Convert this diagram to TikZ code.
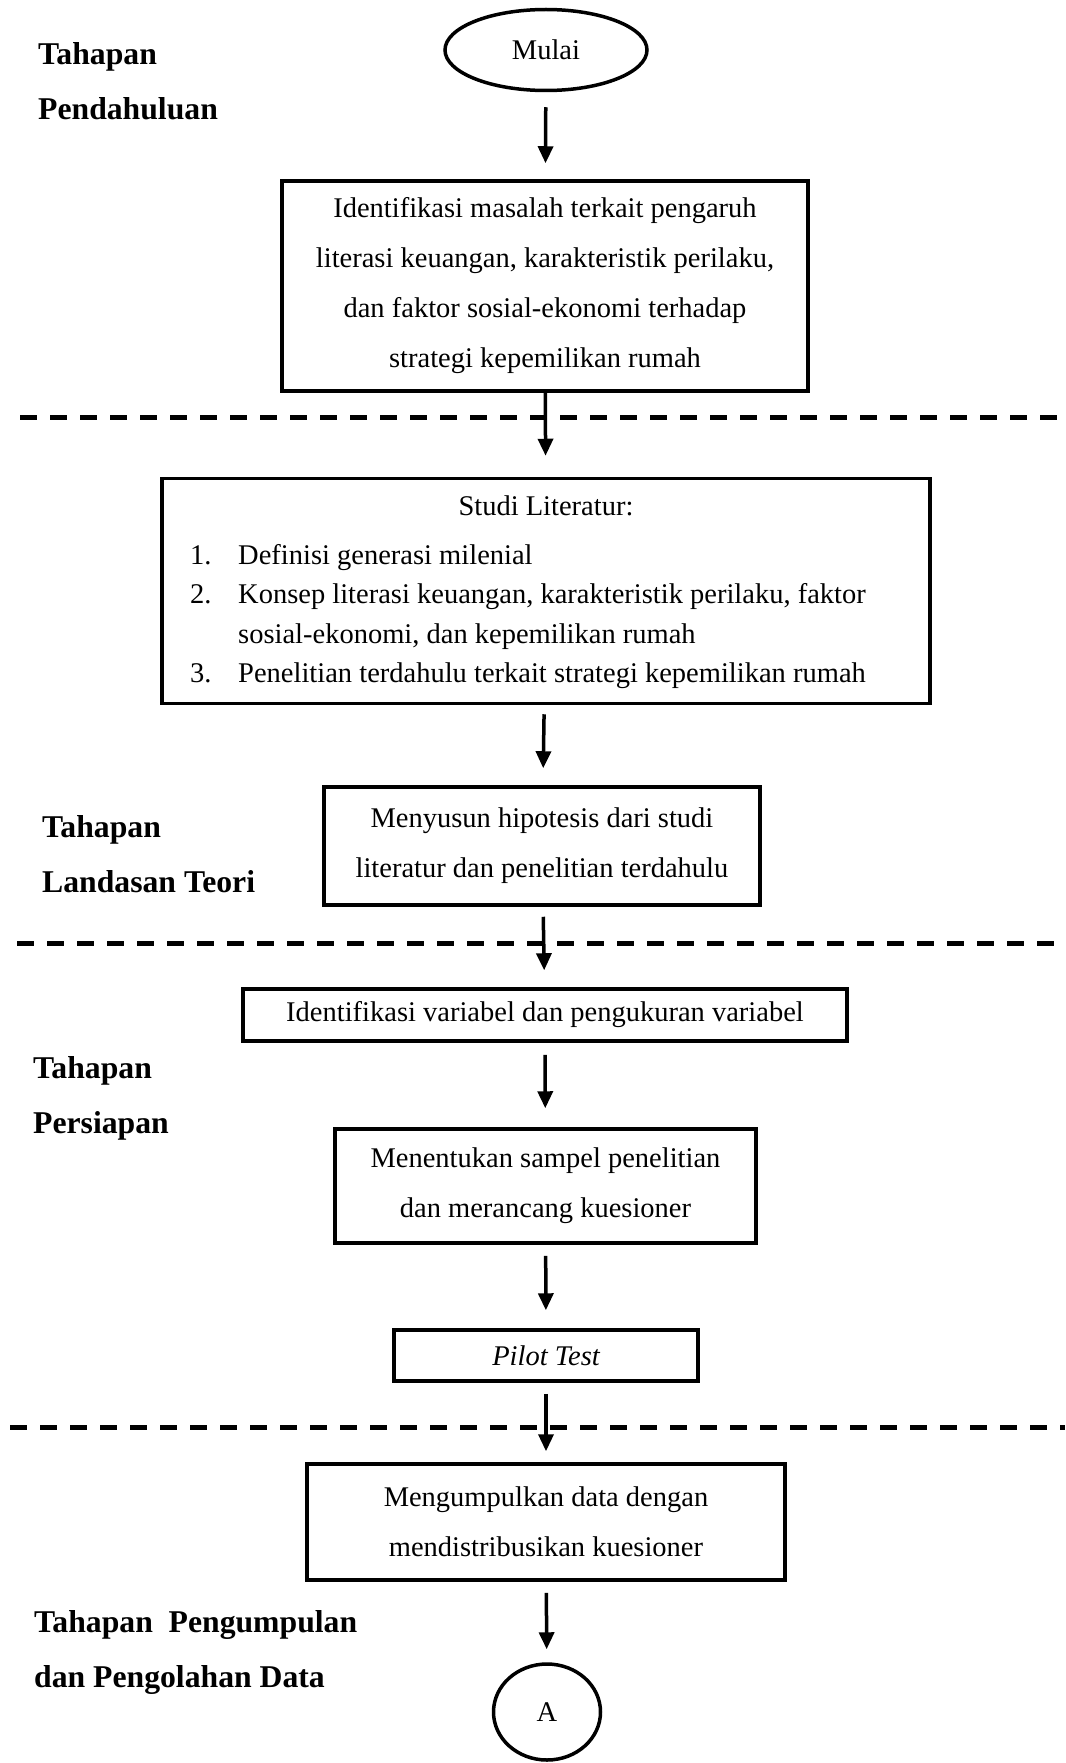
\documentclass[tikz,border=0pt]{standalone}
\usepackage{fontspec}
\setmainfont{Liberation Serif}
\usetikzlibrary{arrows.meta,shapes.geometric}

\begin{document}
\begin{tikzpicture}[x=1pt, y=-1pt,
    box/.style={draw, line width=3.5pt, align=center, inner sep=0pt,
      font=\fontsize{28.5}{50}\selectfont},
    oval/.style={draw, ellipse, line width=3.5pt, inner sep=0pt,
      font=\fontsize{28.5}{34}\selectfont},
    arr/.style={-{Triangle[width=15pt,length=17pt]}, line width=3.5pt,
      shorten <=10pt, shorten >=17pt},
    sep/.style={dash pattern=on 17pt off 13pt, line width=5pt},
    stage/.style={anchor=base west, align=left, inner sep=0pt,
      font=\fontsize{31.7}{55}\selectfont\bfseries}]
  \useasboundingbox (0,0) rectangle (1065,1763);

  \node[stage] (pendahuluan) at (38,120) {Tahapan\\Pendahuluan};
  \node[stage] (landasan) at (42,892) {Tahapan\\Landasan Teori};
  \node[stage] (persiapan) at (33,1133) {Tahapan\\Persiapan};
  \node[stage] (pengumpulan) at (34,1687) {Tahapan~ Pengumpulan\\dan Pengolahan Data};

  \draw[sep] (20,417) -- (1065,417);
  \draw[sep] (17,943) -- (1065,943);
  \draw[sep] (10,1427) -- (1065,1427);

  \node[oval, minimum width=202, minimum height=81] (mulai) at (546,50) {Mulai};
  \node[box, minimum width=526, minimum height=210] (masalah) at (545,286)
    {Identifikasi masalah terkait pengaruh\\
     literasi keuangan, karakteristik perilaku,\\
     dan faktor sosial-ekonomi terhadap\\
     strategi kepemilikan rumah};
  \node[box, minimum width=768, minimum height=225,
    font=\fontsize{28.5}{39.3}\selectfont] (studi) at (546,591) {%
    \begin{tabular}{@{}p{48pt}@{}l@{\hspace{36pt}}}
      \multicolumn{2}{c}{Studi Literatur:}\\[9.7pt]
      1. & Definisi generasi milenial\\
      2. & Konsep literasi keuangan, karakteristik perilaku, faktor\\
         & sosial-ekonomi, dan kepemilikan rumah\\
      3. & Penelitian terdahulu terkait strategi kepemilikan rumah
    \end{tabular}};
  \node[box, minimum width=436, minimum height=118] (hipotesis) at (542,846)
    {Menyusun hipotesis dari studi\\literatur dan penelitian terdahulu};
  \node[box, minimum width=604, minimum height=52] (variabel) at (545,1015)
    {Identifikasi variabel dan pengukuran variabel};
  \node[box, minimum width=421, minimum height=114] (sampel) at (545.5,1186)
    {Menentukan sampel penelitian\\dan merancang kuesioner};
  \node[box, minimum width=304, minimum height=51] (pilot) at (546,1355.5)
    {\itshape Pilot Test};
  \node[box, minimum width=478, minimum height=116] (kumpul) at (546,1522)
    {Mengumpulkan data dengan\\mendistribusikan kuesioner};
  \node[oval, minimum width=107, minimum height=96] (konektor) at (547,1712) {A};

  \draw[arr, shorten <=15pt, shorten >=16pt] (mulai) -- (masalah);
  \draw[arr, shorten <=0pt, shorten >=21pt] (masalah) -- (studi);
  \draw[arr, shorten <=9pt] (studi) -- (hipotesis);
  \draw[arr] (hipotesis) -- (variabel);
  \draw[arr, shorten <=12pt, shorten >=19pt] (variabel) -- (sampel);
  \draw[arr, shorten <=11pt, shorten >=18pt] (sampel) -- (pilot);
  \draw[arr, shorten <=11pt, shorten >=11pt] (pilot) -- (kumpul);
  \draw[arr, shorten <=11pt, shorten >=13pt] (kumpul) -- (konektor);
\end{tikzpicture}
\end{document}
